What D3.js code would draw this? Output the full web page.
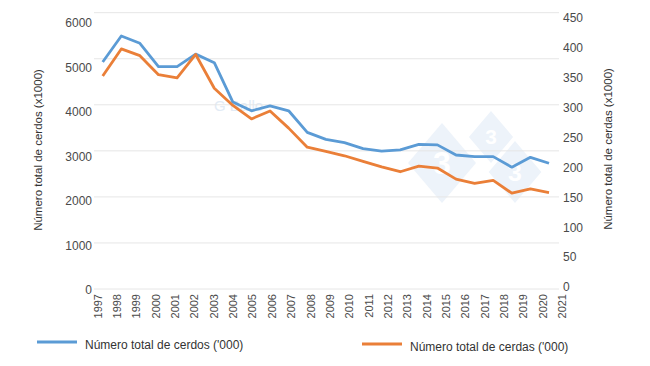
<!DOCTYPE html>
<html>
<head>
<meta charset="utf-8">
<script src="https://cdn.jsdelivr.net/npm/d3@7"></script>
<style>
  body { margin: 0; background: #fff; }
  svg { font-family: "Liberation Sans", Arial, sans-serif; }
</style>
</head>
<body>
<div id="wrapper"></div>
<script>
/////////////////////////////////////////////////
// data /////////////////////////////////////////
/////////////////////////////////////////////////

const years = d3.range(1997, 2022);
const yearLabels = years.map(String);
// total pigs ('000), left axis
const cerdos = [4930, 5495, 5335, 4830, 4830, 5100, 4915, 4060, 3870, 3975, 3870,
  3400, 3250, 3180, 3050, 2995, 3020, 3140, 3130, 2910, 2875, 2875, 2645, 2860, 2730];
// total sows ('000), right axis
const cerdas = [347, 391, 380, 349, 344, 382, 327, 299, 277, 290, 262,
  231, 224, 217, 208, 199, 191, 200, 197, 179, 172, 177, 156, 163, 157];
const leftTicks = [0, 1000, 2000, 3000, 4000, 5000, 6000];
const rightTicks = [0, 50, 100, 150, 200, 250, 300, 350, 400, 450];

const colors = { cerdos: "#5b9bd5", cerdas: "#ea7f38" };

/////////////////////////////////////////////////
// dimensions ///////////////////////////////////
/////////////////////////////////////////////////

const width = 650;
const height = 366;

const svg = d3.select("#wrapper").append("svg")
  .attr("width", width)
  .attr("height", height);

/////////////////////////////////////////////////
// scales ///////////////////////////////////////
/////////////////////////////////////////////////

// data scales
const xScale = d3.scaleLinear().domain([1997, 2021]).range([102.7, 549]);
const yLeft = d3.scaleLinear().domain([0, 6000]).range([289, 12.7]);
const yRight = d3.scaleLinear().domain([0, 450]).range([289, 12.7]);

// label scales (labels in the picture sit slightly off the grid)
const xLabelScale = d3.scalePoint().domain(yearLabels).range([97.3, 561.7]);
const yLeftLabel = d3.scaleLinear().domain([0, 6000]).range([290, 22.7]);
const yRightLabel = d3.scaleLinear().domain([0, 450]).range([287, 18]);

/////////////////////////////////////////////////
// watermark ////////////////////////////////////
/////////////////////////////////////////////////

const marks = [
  { x: 442, y: 163, r: 40 },
  { x: 491, y: 137, r: 26 },
  { x: 515, y: 172, r: 31 }
];
const wm = svg.append("g").attr("class", "watermark");
wm.selectAll("path")
  .data(marks)
  .join("path")
  .attr("d", d => `M${d.x},${d.y - d.r}L${d.x + d.r * 0.85},${d.y}L${d.x},${d.y + d.r}L${d.x - d.r * 0.85},${d.y}Z`)
  .attr("fill", "#edf3fa");
wm.selectAll("text")
  .data(marks)
  .join("text")
  .attr("x", d => d.x)
  .attr("y", d => d.y)
  .attr("dy", "0.35em")
  .attr("text-anchor", "middle")
  .attr("fill", "#fff")
  .style("font-size", d => d.r * 0.8 + "px")
  .style("font-weight", "bold")
  .text("3");
svg.append("text")
  .attr("x", 214)
  .attr("y", 111)
  .attr("fill", "#e2ebf5")
  .style("font-size", "15px")
  .text("G Ballo");

/////////////////////////////////////////////////
// grid /////////////////////////////////////////
/////////////////////////////////////////////////

svg.append("g")
  .attr("class", "grid")
  .selectAll("line")
  .data(leftTicks)
  .join("line")
  .attr("x1", 94)
  .attr("x2", 559)
  .attr("y1", d => yLeft(d))
  .attr("y2", d => yLeft(d))
  .attr("stroke", "#e6e6e6")
  .attr("stroke-width", 1);

/////////////////////////////////////////////////
// axes /////////////////////////////////////////
/////////////////////////////////////////////////

const tickColor = "#4a4a4a";

const xAxis = svg.append("g")
  .attr("transform", "translate(0,294)")
  .call(d3.axisBottom(xLabelScale).tickSize(0));
xAxis.select(".domain").remove();
xAxis.selectAll("text")
  .attr("transform", "rotate(-90)")
  .attr("x", 0)
  .attr("y", 0)
  .attr("dy", "0.35em")
  .attr("text-anchor", "end")
  .attr("fill", tickColor)
  .style("font-size", "11px")
  .style("font-family", "Liberation Sans, Arial, sans-serif");

const yAxisL = svg.append("g")
  .attr("transform", "translate(92,0)")
  .call(d3.axisLeft(yLeftLabel).tickValues(leftTicks).tickSize(0).tickPadding(0).tickFormat(d3.format("d")));
yAxisL.select(".domain").remove();
yAxisL.selectAll("text")
  .attr("fill", tickColor)
  .style("font-size", "12px")
  .style("font-family", "Liberation Sans, Arial, sans-serif");

const yAxisR = svg.append("g")
  .attr("transform", "translate(563,0)")
  .call(d3.axisRight(yRightLabel).tickValues(rightTicks).tickSize(0).tickPadding(0).tickFormat(d3.format("d")));
yAxisR.select(".domain").remove();
yAxisR.selectAll("text")
  .attr("fill", tickColor)
  .style("font-size", "12px")
  .style("font-family", "Liberation Sans, Arial, sans-serif");

// axis titles
svg.append("text")
  .attr("transform", "translate(38,150) rotate(-90)")
  .attr("text-anchor", "middle")
  .attr("dy", "0.35em")
  .attr("fill", "#333")
  .style("font-size", "11.5px")
  .text("Número total de cerdos (x1000)");

svg.append("text")
  .attr("transform", "translate(608,149) rotate(-90)")
  .attr("text-anchor", "middle")
  .attr("dy", "0.35em")
  .attr("fill", "#333")
  .style("font-size", "11.5px")
  .text("Número total de cerdas (x1000)");

/////////////////////////////////////////////////
// lines ////////////////////////////////////////
/////////////////////////////////////////////////

const lineLeft = d3.line()
  .x((d, i) => xScale(years[i]))
  .y(d => yLeft(d));
const lineRight = d3.line()
  .x((d, i) => xScale(years[i]))
  .y(d => yRight(d));

svg.append("path")
  .datum(cerdos)
  .attr("d", lineLeft)
  .attr("fill", "none")
  .attr("stroke", colors.cerdos)
  .attr("stroke-width", 2.8)
  .attr("stroke-linejoin", "round");

svg.append("path")
  .datum(cerdas)
  .attr("d", lineRight)
  .attr("fill", "none")
  .attr("stroke", colors.cerdas)
  .attr("stroke-width", 2.8)
  .attr("stroke-linejoin", "round");

/////////////////////////////////////////////////
// legend ///////////////////////////////////////
/////////////////////////////////////////////////

const legendItems = [
  { label: "Número total de cerdos ('000)", color: colors.cerdos, x: 37, y: 342 },
  { label: "Número total de cerdas ('000)", color: colors.cerdas, x: 362, y: 344 }
];

const legend = svg.selectAll(".legend")
  .data(legendItems)
  .join("g")
  .attr("class", "legend")
  .attr("transform", d => `translate(${d.x},${d.y})`);

legend.append("line")
  .attr("x1", 0)
  .attr("x2", 40)
  .attr("stroke", d => d.color)
  .attr("stroke-width", 3);

legend.append("text")
  .attr("x", 48)
  .attr("y", 3)
  .attr("dy", "0.35em")
  .attr("fill", "#333")
  .style("font-size", "12px")
  .text(d => d.label);
</script>
</body>
</html>
